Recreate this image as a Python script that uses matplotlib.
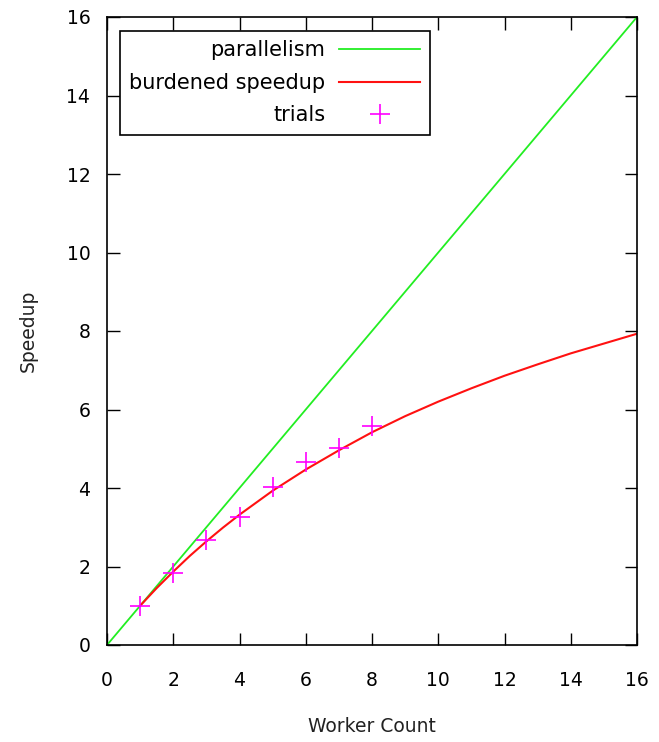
import matplotlib
matplotlib.use("Agg")
import matplotlib.pyplot as plt

# Data
parallel_x = [0, 16]
parallel_y = [0, 16]

burden_x = [1, 1.5, 2, 2.5, 3, 3.5, 4, 5, 6, 7, 8, 9, 10, 11, 12, 13, 14, 15, 16]
burden_y = [1.00, 1.45, 1.87, 2.27, 2.64, 2.99, 3.32, 3.93, 4.47, 4.96, 5.42,
            5.83, 6.20, 6.54, 6.86, 7.15, 7.43, 7.68, 7.93]

trials_x = [1, 2, 3, 4, 5, 6, 7, 8]
trials_y = [1.00, 1.84, 2.68, 3.27, 4.02, 4.65, 5.01, 5.59]

xticks = [0, 2, 4, 6, 8, 10, 12, 14, 16]
yticks = [0, 2, 4, 6, 8, 10, 12, 14, 16]

plt.rcParams['font.family'] = ['DejaVu Sans']
FS = 13.5

fig = plt.figure(figsize=(6.59, 7.42), dpi=100)
ax = fig.add_axes([107/659, 1 - 645/742, 530/659, 628/742])

ax.plot(parallel_x, parallel_y, color='#22ee22', lw=1.3, label='parallelism')
ax.plot(burden_x, burden_y, color='#ff1111', lw=1.5, label='burdened speedup')
ax.plot(trials_x, trials_y, linestyle='none', marker='+', color='#ff00ff',
        markersize=15, markeredgewidth=1.2, label='trials')

ax.set_xlim(0, 16)
ax.set_ylim(0, 16)
ax.set_xticks(xticks)
ax.set_yticks(yticks)
ax.tick_params(direction='in', length=9, width=1.0, top=True, right=True,
               labelsize=FS, colors='black')
ax.tick_params(axis='x', pad=19)
ax.tick_params(axis='y', pad=12)
for s in ax.spines.values():
    s.set_linewidth(1.2)
    s.set_color('black')

ax.set_xlabel('Worker Count', fontsize=FS, color='#222222', labelpad=19)
ax.set_ylabel('Speedup', fontsize=FS, color='#222222', labelpad=21)

leg = ax.legend(loc='upper left', bbox_to_anchor=(13/530, (645-31)/628),
                borderaxespad=0, markerfirst=False, fancybox=False,
                framealpha=1, edgecolor='black', fontsize=15,
                handlelength=3.9, handletextpad=0.65, borderpad=0.45,
                labelspacing=0.6)
leg.get_frame().set_linewidth(1.2)

fig.savefig('out.png', dpi=100)
